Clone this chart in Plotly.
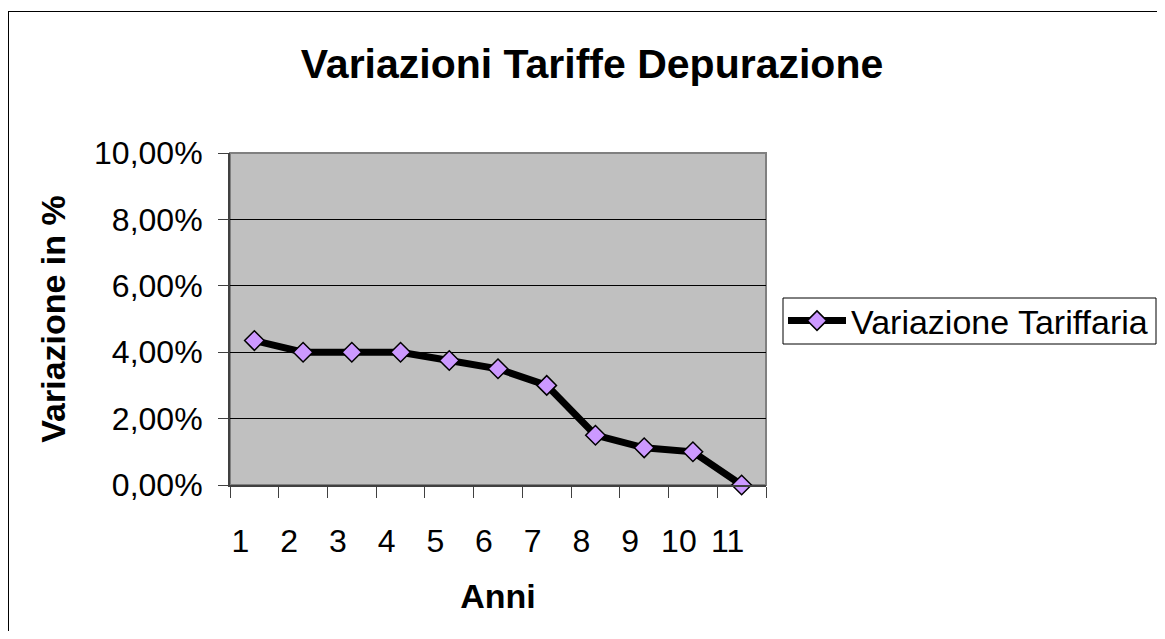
import plotly.graph_objects as go

anni = ["1", "2", "3", "4", "5", "6", "7", "8", "9", "10", "11"]
variazione = [4.35, 4.0, 4.0, 4.0, 3.75, 3.5, 3.0, 1.5, 1.12, 1.0, 0.0]
y_tickvals = [0, 2, 4, 6, 8, 10]
y_ticktext = ["0,00%", "2,00%", "4,00%", "6,00%", "8,00%", "10,00%"]

FONT = "Liberation Sans, Arial, sans-serif"
OFF = 8  # browser body margin
W, H = 1165 - 2 * OFF, 639 - 2 * OFF
# plot area in page pixels: x 230..766, y 153..485
L = 230 - OFF
T = 153 - OFF
R = W - (766 - OFF)
B = H - (485 - OFF)
pw, ph = W - L - R, H - T - B


def px_x(p):
    return (p - 230) / pw


def px_y(p):
    return (485 - p) / ph


fig = go.Figure()
fig.add_trace(go.Scatter(
    x=anni, y=variazione, mode="lines+markers", name="Variazione Tariffaria",
    line=dict(color="black", width=7),
    marker=dict(symbol="diamond", size=15, color="#CC99FF",
                line=dict(color="black", width=1.5)),
    cliponaxis=False,
))

fig.update_layout(
    width=W, height=H,
    margin=dict(l=L, r=R, t=T, b=B, autoexpand=False),
    paper_bgcolor="white", plot_bgcolor="#C0C0C0",
    font=dict(family=FONT, color="black", size=32),
    title=dict(text="<b>Variazioni Tariffe Depurazione</b>",
               font=dict(family=FONT, size=41, color="black"),
               x=(592 - OFF) / W, xanchor="center", xref="container",
               y=1 - (64 - OFF) / H, yanchor="middle", yref="container"),
    showlegend=True,
    legend=dict(x=px_x(783), y=px_y(321), xanchor="left", yanchor="middle",
                bgcolor="rgba(0,0,0,0)", borderwidth=0,
                font=dict(family=FONT, size=34, color="black"),
                itemwidth=58, itemsizing="trace"),
    shapes=[
        dict(type="rect", xref="paper", yref="paper", x0=0, x1=1, y0=0, y1=1,
             line=dict(color="#808080", width=2), layer="below"),
        dict(type="line", xref="paper", yref="paper",
             x0=px_x(8.5), x1=px_x(8.5), y0=px_y(700), y1=px_y(11),
             line=dict(color="black", width=1), layer="below"),
        dict(type="line", xref="paper", yref="paper",
             x0=px_x(8), x1=px_x(1200), y0=px_y(11.5), y1=px_y(11.5),
             line=dict(color="black", width=1), layer="below"),
        dict(type="rect", xref="paper", yref="paper",
             x0=px_x(783), x1=px_x(1156), y0=px_y(344), y1=px_y(298),
             fillcolor="white", line=dict(color="black", width=1), layer="above"),
    ],
)

fig.update_xaxes(
    type="category", range=[-0.5, 10.5], tickson="boundaries",
    ticks="outside", ticklen=11, tickwidth=1, tickcolor="#404040",
    showline=True, linecolor="#404040", linewidth=2, showgrid=False,
    tickfont=dict(family=FONT, size=32, color="black"),
    ticklabelshift=-14, ticklabelstandoff=27,
    title=dict(text="<b>Anni</b>", font=dict(family=FONT, size=34, color="black"), standoff=26),
    automargin=False, fixedrange=True,
)
fig.update_yaxes(
    range=[0, 10], tickvals=y_tickvals, ticktext=y_ticktext,
    ticks="outside", ticklen=10, tickwidth=1, tickcolor="#404040",
    showline=True, linecolor="#404040", linewidth=2,
    showgrid=True, gridcolor="black", gridwidth=1, zeroline=False,
    tickfont=dict(family=FONT, size=32, color="black"),
    ticklabelstandoff=9,
    title=dict(text="<b>Variazione in %</b>", font=dict(family=FONT, size=34, color="black"), standoff=18),
    automargin=False, fixedrange=True,
)

fig.write_html("out.html")
